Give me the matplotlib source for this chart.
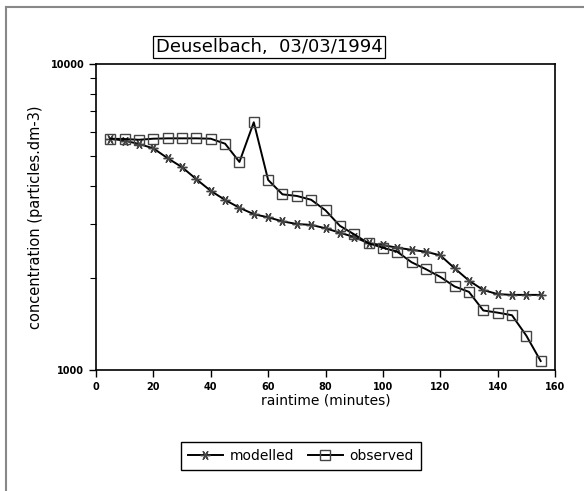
import matplotlib.pyplot as plt
from matplotlib.lines import Line2D
from matplotlib.ticker import FixedLocator, LogLocator, NullFormatter, FixedFormatter

raintime = [5, 10, 15, 20, 25, 30, 35, 40, 45, 50, 55, 60, 65, 70, 75, 80,
            85, 90, 95, 100, 105, 110, 115, 120, 125, 130, 135, 140, 145, 150, 155]

modelled = [5700, 5615, 5480, 5300, 4920, 4600, 4200, 3850, 3595, 3390, 3230,
            3155, 3060, 3000, 2980, 2905, 2810, 2720, 2595, 2560, 2510, 2470,
            2435, 2370, 2150, 1960, 1825, 1770, 1760, 1760, 1760]

observed = [5700, 5685, 5655, 5700, 5715, 5715, 5715, 5700, 5490, 4785, 6450,
            4180, 3750, 3705, 3600, 3325, 2960, 2775, 2595, 2510, 2435, 2250,
            2135, 2015, 1875, 1800, 1565, 1540, 1510, 1295, 1070]

fig = plt.figure(figsize=(5.84, 4.91), dpi=100)
ax = fig.add_axes([96 / 584, 121 / 491, 459 / 584, 306 / 491])

ax.plot(raintime, modelled, color="black", linewidth=1.4,
        marker=(6, 2, 90), markersize=7, markeredgecolor="#444444",
        markeredgewidth=1.0, label="modelled")
ax.plot(raintime, observed, color="black", linewidth=1.4,
        marker="s", markersize=7, markerfacecolor="none",
        markeredgecolor="#444444", markeredgewidth=1.0, label="observed")

ax.set_yscale("log")
ax.set_xlim(0, 160)
ax.set_ylim(1000, 10000)
ax.set_xticks(range(0, 161, 20))
ax.yaxis.set_major_locator(FixedLocator([1000, 10000]))
ax.yaxis.set_major_formatter(FixedFormatter(["1000", "10000"]))
ax.yaxis.set_minor_locator(LogLocator(base=10, subs=range(2, 10)))
ax.yaxis.set_minor_formatter(NullFormatter())
ax.tick_params(axis="both", which="major", direction="out", length=5,
               width=1, labelsize=7)
ax.tick_params(axis="y", which="minor", direction="out", length=4, width=0.8)
for lab in ax.get_xticklabels() + ax.get_yticklabels():
    lab.set_fontweight("bold")
for sp in ax.spines.values():
    sp.set_linewidth(1.2)

ax.set_xlabel("raintime (minutes)", fontsize=10, labelpad=1)
ax.set_ylabel("concentration (particles.dm-3)", fontsize=10.5, labelpad=5)

fig.text(269 / 584, 1 - 47 / 491, "Deuselbach,  03/03/1994", fontsize=13,
         ha="center", va="center",
         bbox=dict(boxstyle="square,pad=0.12", facecolor="white",
                   edgecolor="black", linewidth=0.9))

fig.legend(loc="center", bbox_to_anchor=(301 / 584, 35 / 491), ncol=2,
           fontsize=10, frameon=True, fancybox=False, edgecolor="black",
           handlelength=2.5, columnspacing=1.0, handletextpad=0.5,
           borderpad=0.5, framealpha=1)
leg = fig.legends[0]
leg.get_frame().set_linewidth(1.0)

# outer frame (left and top edges only)
fig.add_artist(Line2D([6 / 584, 6 / 584], [0, 1 - 7 / 491],
                      transform=fig.transFigure, color="#888888", linewidth=1.5))
fig.add_artist(Line2D([6 / 584, 1], [1 - 7 / 491, 1 - 7 / 491],
                      transform=fig.transFigure, color="#888888", linewidth=1.5))

fig.savefig("out.png", dpi=100)
